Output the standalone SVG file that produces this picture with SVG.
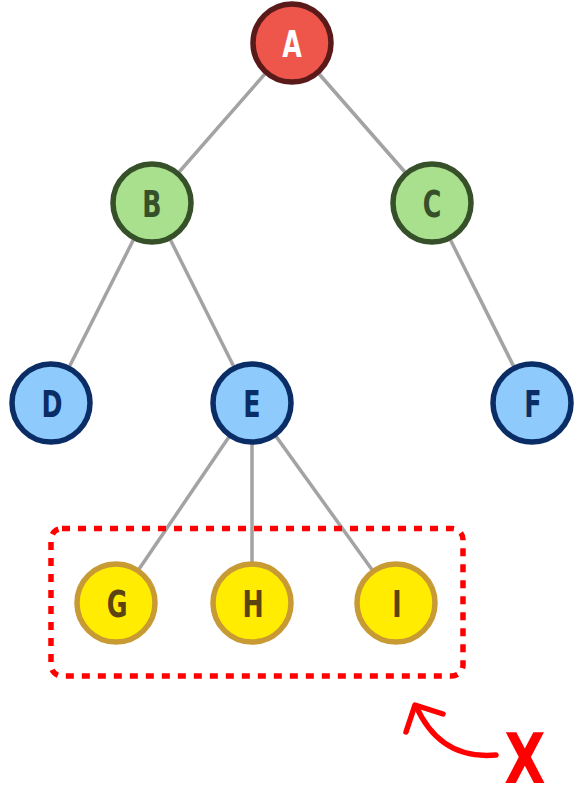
<svg xmlns="http://www.w3.org/2000/svg" width="586" height="787" viewBox="0 0 586 787">
<style>
.edge{stroke:#a3a3a3;stroke-width:3.5;fill:none}
.node circle{stroke-width:5.5}
.node text{font-family:"DejaVu Sans Condensed","DejaVu Sans","Liberation Sans",sans-serif;font-weight:bold;font-size:38px;text-anchor:middle}
.r circle{fill:#ef564b;stroke:#5a1a1a}
.r text{fill:#ffffff}
.g circle{fill:#a8e08d;stroke:#36502a}
.g text{fill:#36502a}
.b circle{fill:#8ecafc;stroke:#0b2d66}
.b text{fill:#0b2d66}
.y circle{fill:#ffec00;stroke:#c89a33}
.y text{fill:#5c4410}
.red{stroke:#ff0000;fill:none;stroke-width:5.5;stroke-linecap:round;stroke-linejoin:round}
.xmark{font-family:"DejaVu Sans Condensed","DejaVu Sans",sans-serif;font-weight:bold;font-size:70px;fill:#ff0000;text-anchor:middle}
</style>
<g id="connectors">
<line class="edge" x1="292" y1="43" x2="152" y2="203"/>
<line class="edge" x1="292" y1="43" x2="432" y2="203"/>
<line class="edge" x1="152" y1="203" x2="51" y2="403"/>
<line class="edge" x1="152" y1="203" x2="252" y2="403"/>
<line class="edge" x1="432" y1="203" x2="532" y2="403"/>
<line class="edge" x1="252" y1="403" x2="116" y2="603"/>
<line class="edge" x1="252" y1="403" x2="252" y2="603"/>
<line class="edge" x1="252" y1="403" x2="396" y2="603"/>
</g>
<g id="group-box">
<rect x="51" y="528.5" width="412" height="147.5" rx="11" fill="none" stroke="#ff0000" stroke-width="5.5" stroke-dasharray="8 8"/>
</g>
<g id="node-A" class="node r"><circle cx="292" cy="43" r="39"/><text transform="translate(292 57) scale(0.74 1)">A</text></g>
<g id="node-B" class="node g"><circle cx="152" cy="203" r="39"/><text transform="translate(152 217) scale(0.74 1)">B</text></g>
<g id="node-C" class="node g"><circle cx="432" cy="203" r="39"/><text transform="translate(432 217) scale(0.74 1)">C</text></g>
<g id="node-D" class="node b"><circle cx="51" cy="403" r="39"/><text transform="translate(52 417) scale(0.74 1)">D</text></g>
<g id="node-E" class="node b"><circle cx="252" cy="403" r="39"/><text transform="translate(252 417) scale(0.74 1)">E</text></g>
<g id="node-F" class="node b"><circle cx="532" cy="403" r="39"/><text transform="translate(533 417) scale(0.74 1)">F</text></g>
<g id="node-G" class="node y"><circle cx="116" cy="603" r="39"/><text transform="translate(117 617) scale(0.74 1)">G</text></g>
<g id="node-H" class="node y"><circle cx="252" cy="603" r="39"/><text transform="translate(253 617) scale(0.74 1)">H</text></g>
<g id="node-I" class="node y"><circle cx="396" cy="603" r="39"/><text transform="translate(397 617) scale(0.74 1)">I</text></g>
<g id="annotation">
<path class="red" d="M496 755 Q440 760 416 706"/>
<path class="red" d="M406 732 L415 705 L443 714"/>
<text class="xmark" transform="translate(525 783) scale(0.85 1)">X</text>
</g>
</svg>
